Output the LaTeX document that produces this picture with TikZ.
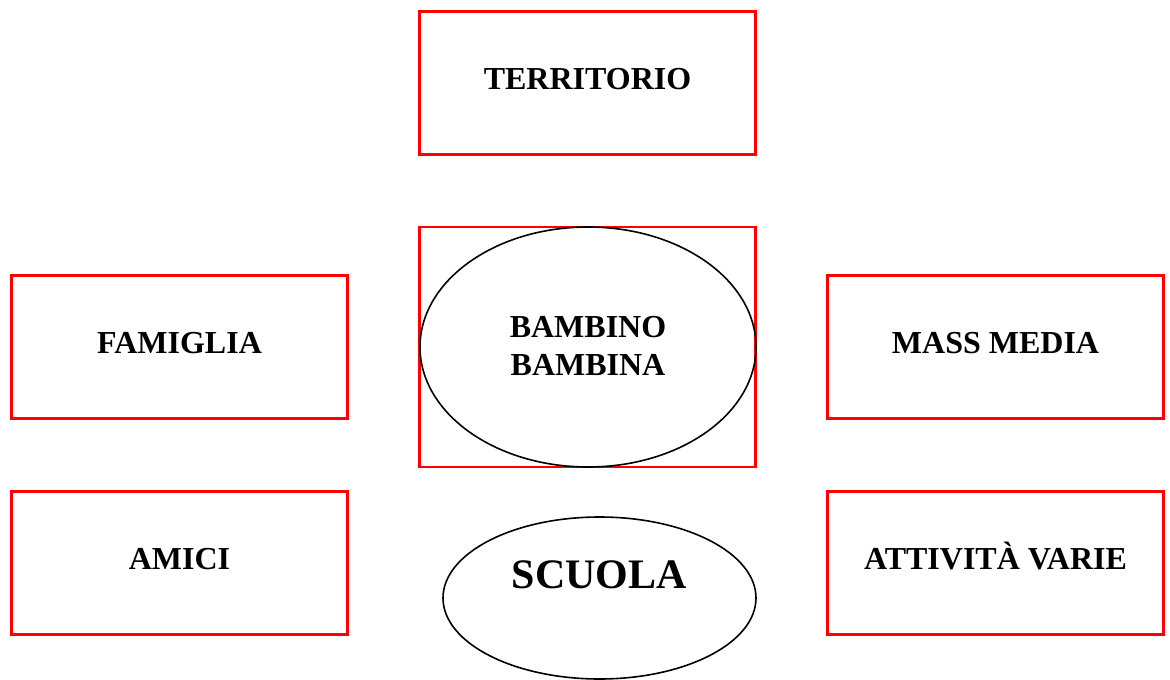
\documentclass[tikz,border=0pt]{standalone}
\usepackage{fontspec}
\setmainfont{Liberation Serif}
\usetikzlibrary{shapes.geometric}
\definecolor{boxred}{RGB}{255,0,0}
\tikzset{
  box/.style={draw=boxred, line width=2.2pt, minimum width=336pt, minimum height=143pt, inner sep=0pt, text height=21pt, text depth=8pt, font=\fontsize{32}{37}\selectfont\bfseries},
  oval/.style={draw=black, line width=1.6pt, ellipse, inner sep=0pt},
  lbl/.style={inner sep=0pt, font=\fontsize{32}{38}\selectfont\bfseries, align=center}
}
\begin{document}
\begin{tikzpicture}[x=1pt,y=-1pt]
\useasboundingbox (0,0) rectangle (1170,680);
\node[box] (terr) at (587.5,83) {TERRITORIO};
\node[box, minimum height=240pt] (bbox) at (587.5,347) {};
\node[oval, minimum width=336pt, minimum height=240pt] (bell) at (588,347) {};
\node[lbl] (bname) at (588,345.5) {BAMBINO\\BAMBINA};
\node[box] (fam) at (179.5,347) {FAMIGLIA};
\node[box] (mass) at (995.5,347) {MASS MEDIA};
\node[box] (amici) at (179.5,563) {AMICI};
\node[box] (att) at (995.5,563) {ATTIVITÀ VARIE};
\node[oval, minimum width=313pt, minimum height=162pt] (scuola) at (599.5,598) {};
\node[lbl, font=\fontsize{42}{48}\selectfont\bfseries] (scuolat) at (599.5,574.5) {SCUOLA};
\end{tikzpicture}
\end{document}
